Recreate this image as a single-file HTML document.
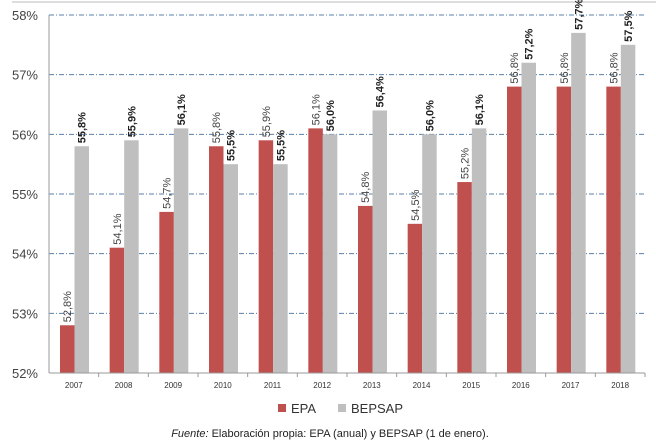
<!DOCTYPE html>
<html><head><meta charset="utf-8"><style>
body{margin:0;background:#fff;}
svg{display:block;font-family:"Liberation Sans",Arial,sans-serif;}
</style></head><body>
<svg id="chart" width="656" height="445">
<line x1="12" y1="2" x2="656" y2="2" stroke="#bbb" stroke-width="1"/>
<g id="grid"></g><g id="bars"></g><g id="labels"></g><g id="axes"></g>
<g>
<rect x="278" y="404" width="8" height="8" fill="#c0504d"/>
<text x="291" y="413" font-size="13" fill="#333">EPA</text>
<rect x="338" y="404" width="8" height="8" fill="#bfbfbf"/>
<text x="351" y="413" font-size="13" fill="#333">BEPSAP</text>
</g>
<text x="330" y="437" font-size="11" fill="#222" text-anchor="middle"><tspan font-style="italic">Fuente:</tspan> Elaboración propia: EPA (anual) y BEPSAP (1 de enero).</text>
</svg>
<script>
const categories=["2007","2008","2009","2010","2011","2012","2013","2014","2015","2016","2017","2018"];
const epaValues=[52.8,54.1,54.7,55.8,55.9,56.1,54.8,54.5,55.2,56.8,56.8,56.8];
const bepsapValues=[55.8,55.9,56.1,55.5,55.5,56.0,56.4,56.0,56.1,57.2,57.7,57.5];
const yTicks=[52,53,54,55,56,57,58];
const ns="http://www.w3.org/2000/svg";
const X0=49,X1=645,Y0=373,Y1=15,yMin=52,yMax=58;
const cw=(X1-X0)/categories.length;
const y=v=>Y0-(v-yMin)/(yMax-yMin)*(Y0-Y1);
const x=i=>X0+i*cw;
function mk(t,a,p){const e=document.createElementNS(ns,t);for(const k in a)e.setAttribute(k,a[k]);p.appendChild(e);return e;}
const g=document.getElementById('grid'),b=document.getElementById('bars'),l=document.getElementById('labels'),ax=document.getElementById('axes');
const fmt=v=>v.toFixed(1).replace('.',',')+'%';
yTicks.forEach(t=>{
  if(t>yMin){const ln=mk('line',{x1:X0,x2:X1,y1:y(t),y2:y(t),stroke:'#5a7fa8','stroke-width':1,'stroke-dasharray':'5,2,1,2'},g);
  
  }
  const tx=mk('text',{x:38,y:y(t)+5,'font-size':13,fill:'#444','text-anchor':'end'},ax);tx.textContent=t+'%';
  
  
});
const axl=mk('line',{x1:X0,x2:X0,y1:Y1,y2:Y0,stroke:'#999'},ax);


const axb=mk('line',{x1:X0,x2:X1,y1:Y0,y2:Y0,stroke:'#999'},ax);


categories.forEach((c,i)=>{
  const tk=mk('line',{x1:x(i+1),x2:x(i+1),y1:Y0,y2:Y0+4,stroke:'#999'},ax);
  
  
  const ct=mk('text',{x:x(i)+cw/2,y:Y0+15,'font-size':8,fill:'#333','text-anchor':'middle'},ax);ct.textContent=c;
  
  
  [[epaValues[i],11,'#c0504d','normal','epa'],[bepsapValues[i],25.5,'#bfbfbf','bold','bepsap']].forEach(([v,o,col,fw,nm])=>{
    const bx=x(i)+o;
    const r=mk('rect',{x:bx,y:y(v),width:14.5,height:Y0-y(v),fill:col},b);
    
    
    const tx=bx+7.25+4,ty=y(v)-3;
    const t=mk('text',{x:tx,y:ty,'font-size':11,'font-weight':fw,fill:fw=='bold'?'#222':'#444',transform:`rotate(-90 ${tx} ${ty})`},l);
    t.textContent=fmt(v);
    
    
  });
});
</script>
</body></html>
